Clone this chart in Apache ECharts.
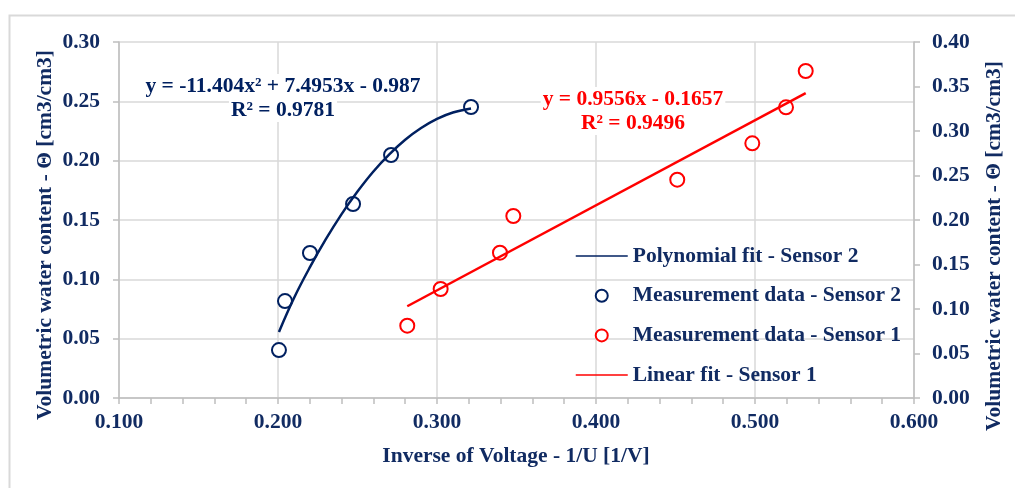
<!DOCTYPE html>
<html>
<head>
<meta charset="utf-8">
<script src="https://cdn.jsdelivr.net/npm/echarts@6/dist/echarts.min.js"></script>
<style>html,body{margin:0;padding:0;background:#fff;}#c{width:1015px;height:488px;}</style>
</head>
<body>
<div id="c"></div>
<script>
// Measurement data - Sensor 2 (left axis)
const s2X = [0.2006, 0.2044, 0.2201, 0.2472, 0.2711, 0.3214];
const s2Y = [0.0404, 0.0817, 0.1222, 0.1635, 0.2048, 0.2452];
// Measurement data - Sensor 1 (right axis)
const s1X = [0.2813, 0.3023, 0.3396, 0.3480, 0.4511, 0.4983, 0.5195, 0.5319];
const s1Y = [0.0813, 0.1225, 0.1633, 0.2045, 0.2453, 0.2862, 0.3266, 0.3674];
// Polynomial fit curve - Sensor 2
const polyX = [0.2006, 0.21, 0.22, 0.23, 0.24, 0.25, 0.26, 0.27, 0.28, 0.29, 0.30, 0.31, 0.3214];
const polyY = [0.0557, 0.0841, 0.1100, 0.1336, 0.1550, 0.1740, 0.1909, 0.2053, 0.2176, 0.2275, 0.2352, 0.2406, 0.2440];
// Linear fit - Sensor 1 (end points)
const linX = [0.2813, 0.5319];
const linY = [0.1031, 0.3426];

const names = ['Polynomial fit - Sensor 2', 'Measurement data - Sensor 2', 'Measurement data - Sensor 1', 'Linear fit - Sensor 1'];
const eqBlue = ['y = -11.404x² + 7.4953x - 0.987', 'R² = 0.9781'];
const eqRed = ['y = 0.9556x - 0.1657', 'R² = 0.9496'];
const xTitle = 'Inverse of Voltage - 1/U [1/V]';
const yTitle = 'Volumetric water content - Θ [cm3/cm3]';

const NAVY = '#002060';
const TXT = '#112B62';
const RED = '#FF0000';
const FONT = 'Liberation Serif';
const zip = (a, b) => a.map((v, i) => [v, b[i]]);

const chart = echarts.init(document.getElementById('c'));
const txtStyle = {fontFamily: FONT, fontWeight: 'bold', fontSize: 21.5};
const axisLine = {show: true, lineStyle: {color: '#bfbfbf', width: 1.5}};
const axisTick = {show: true, length: 6, lineStyle: {color: '#bfbfbf', width: 1.5}};
const eqText = (x, y, text, fill) => ({
  type: 'text', x: x, y: y, z: 10,
  style: Object.assign({text: text, fill: fill, align: 'center', verticalAlign: 'middle',
    backgroundColor: '#ffffff', padding: [1, 2]}, txtStyle)
});

chart.setOption({
  animation: false,
  backgroundColor: '#fff',
  grid: {left: 119, right: 101, top: 42, bottom: 90, containLabel: false},
  legend: {
    orient: 'vertical', left: 575, top: 245, padding: 0,
    itemWidth: 52, itemHeight: 12, itemGap: 17.7,
    selectedMode: false,
    data: [
      {name: names[0], itemStyle: {opacity: 0}},
      {name: names[1]},
      {name: names[2]},
      {name: names[3], itemStyle: {opacity: 0}}
    ],
    lineStyle: {width: 1.5},
    textStyle: Object.assign({color: TXT, lineHeight: 22}, txtStyle)
  },
  xAxis: {
    type: 'value', min: 0.1, max: 0.6, interval: 0.1,
    axisLine: axisLine, axisTick: axisTick,
    minorTick: {show: true, splitNumber: 5, length: 6, lineStyle: {color: '#bfbfbf', width: 1.5}},
    splitLine: {show: true, lineStyle: {color: '#d9d9d9', width: 1.5}},
    axisLabel: Object.assign({color: TXT, margin: 13, formatter: v => v.toFixed(3)}, txtStyle)
  },
  yAxis: [{
    type: 'value', min: 0, max: 0.3, interval: 0.05, position: 'left',
    axisLine: axisLine, axisTick: axisTick,
    splitLine: {show: true, lineStyle: {color: '#d9d9d9', width: 1.5}},
    axisLabel: Object.assign({color: TXT, margin: 19, formatter: v => v.toFixed(2)}, txtStyle)
  }, {
    type: 'value', min: 0, max: 0.4, interval: 0.05, position: 'right',
    axisLine: axisLine, axisTick: axisTick,
    splitLine: {show: false},
    axisLabel: Object.assign({color: TXT, margin: 18, formatter: v => v.toFixed(2)}, txtStyle)
  }],
  series: [{
    name: names[0], type: 'line', yAxisIndex: 0, data: zip(polyX, polyY),
    smooth: 0.4, symbol: 'none', z: 4,
    lineStyle: {color: NAVY, width: 2.5}, itemStyle: {color: NAVY}
  }, {
    name: names[1], type: 'scatter', yAxisIndex: 0, data: zip(s2X, s2Y),
    symbol: 'circle', symbolSize: 14, z: 3,
    itemStyle: {color: '#ffffff', borderColor: NAVY, borderWidth: 2, opacity: 1}
  }, {
    name: names[2], type: 'scatter', yAxisIndex: 1, data: zip(s1X, s1Y),
    symbol: 'circle', symbolSize: 14, z: 3,
    itemStyle: {color: '#ffffff', borderColor: RED, borderWidth: 2, opacity: 1}
  }, {
    name: names[3], type: 'line', yAxisIndex: 1, data: zip(linX, linY),
    symbol: 'none', z: 4,
    lineStyle: {color: RED, width: 2.5}, itemStyle: {color: RED}
  }],
  graphic: [
    {type: 'rect', left: 7, top: 13, silent: true, z: -10,
     shape: {width: 1030, height: 500}, style: {fill: 'none', stroke: '#d9d9d9', lineWidth: 2}},
    eqText(283, 86, eqBlue[0], NAVY),
    eqText(283, 110, eqBlue[1], NAVY),
    eqText(633, 99, eqRed[0], RED),
    eqText(633, 123, eqRed[1], RED),
    {type: 'text', x: 516, y: 456, style: Object.assign({text: xTitle, fill: TXT, align: 'center', verticalAlign: 'middle'}, txtStyle)},
    {type: 'text', x: 45, y: 235, rotation: Math.PI / 2, style: Object.assign({text: yTitle, fill: TXT, align: 'center', verticalAlign: 'middle'}, txtStyle)},
    {type: 'text', x: 994, y: 246, rotation: Math.PI / 2, style: Object.assign({text: yTitle, fill: TXT, align: 'center', verticalAlign: 'middle'}, txtStyle)}
  ]
});
</script>
</body>
</html>
